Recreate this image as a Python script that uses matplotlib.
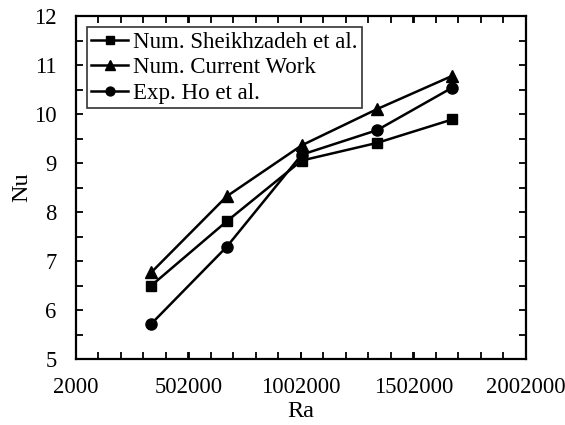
import numpy as np
import matplotlib
matplotlib.use("Agg")
import matplotlib.pyplot as plt
from matplotlib.ticker import MultipleLocator

plt.rcParams['font.family'] = ['Liberation Serif', 'DejaVu Serif']

# Rayleigh numbers and Nusselt numbers
ra = [337000, 672000, 1005000, 1340000, 1675000]
nu_sheikh = [6.50, 7.81, 9.05, 9.41, 9.89]
nu_current = [6.77, 8.32, 9.36, 10.10, 10.78]
nu_ho = [5.72, 7.29, 9.17, 9.67, 10.54]

x_ticks = [2000, 502000, 1002000, 1502000, 2002000]

fig = plt.figure(figsize=(5.65, 4.25), dpi=100)
ax = fig.add_axes([76 / 565, 66 / 425, 450 / 565, 343 / 425])

ax.plot(ra, nu_sheikh, color="black", lw=1.8, marker="s", ms=7.5,
        label="Num. Sheikhzadeh et al.")
ax.plot(ra, nu_current, color="black", lw=1.8, marker="^", ms=8.5,
        label="Num. Current Work")
ax.plot(ra, nu_ho, color="black", lw=1.8, marker="o", ms=8,
        label="Exp. Ho et al.")

ax.set_xlim(2000, 2002000)
ax.set_ylim(5, 12)
ax.set_xticks(x_ticks)
ax.set_xticklabels([str(t) for t in x_ticks])
ax.xaxis.set_minor_locator(MultipleLocator(100000))
ax.yaxis.set_major_locator(MultipleLocator(1))
ax.yaxis.set_minor_locator(MultipleLocator(0.5))

ax.tick_params(which="both", direction="in", top=True, right=True,
               length=5, width=1.3, labelsize=16.3)
ax.tick_params(axis="x", pad=13)
ax.tick_params(axis="y", pad=14)
for s in ax.spines.values():
    s.set_linewidth(1.6)

ax.set_xlabel("Ra", fontsize=17.5, labelpad=2)
ax.set_ylabel("Nu", fontsize=17.5, labelpad=1)

leg = ax.legend(loc="upper left", bbox_to_anchor=(0.024, 0.968), fontsize=16.5,
                frameon=True, fancybox=False, edgecolor="black",
                borderpad=0.2, labelspacing=0.2, handlelength=1.6,
                handletextpad=0.2, borderaxespad=0, markerscale=0.8)
leg.get_frame().set_linewidth(1.2)

fig.savefig("out.png", dpi=100)
